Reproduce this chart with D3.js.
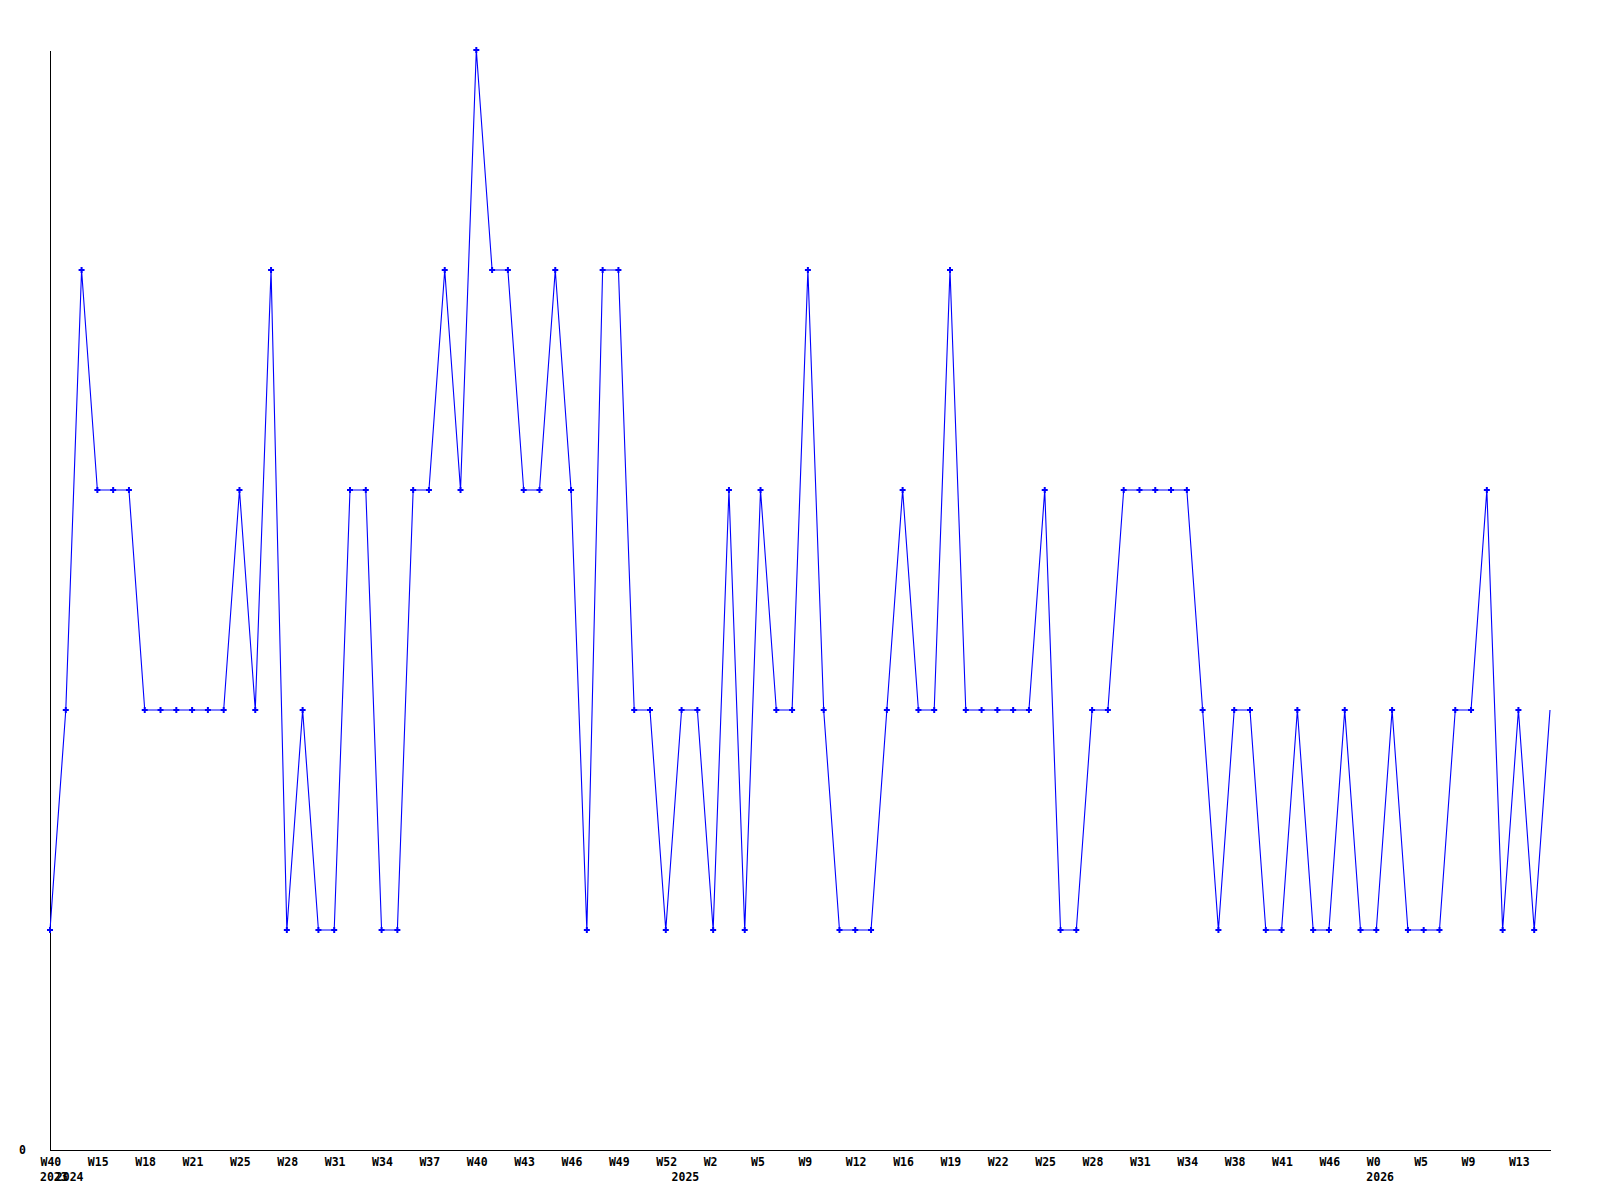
<!DOCTYPE html>
<html>
<head>
<meta charset="utf-8">
<script src="https://cdn.jsdelivr.net/npm/d3@7"></script>
<style>
  body { margin: 0; background: #fff; }
  text { font-family: "DejaVu Sans Mono", monospace; font-weight: bold; font-size: 11.5px; fill: #000; }
</style>
</head>
<body>
<svg width="1600" height="1200"></svg>
<script>
// weekly counts, one per point
var values = [
  1, 2, 4, 3, 3, 3, 2, 2, 2, 2,
  2, 2, 3, 2, 4, 1, 2, 1, 1, 3,
  3, 1, 1, 3, 3, 4, 3, 5, 4, 4,
  3, 3, 4, 3, 1, 4, 4, 2, 2, 1,
  2, 2, 1, 3, 1, 3, 2, 2, 4, 2,
  1, 1, 1, 2, 3, 2, 2, 4, 2, 2,
  2, 2, 2, 3, 1, 1, 2, 2, 3, 3,
  3, 3, 3, 2, 1, 2, 2, 1, 1, 2,
  1, 1, 2, 1, 1, 2, 1, 1, 1, 2,
  2, 3, 1, 2, 1, 2
];

// a week label on every third point
var weekLabels = ["W40", "W15", "W18", "W21", "W25", "W28", "W31", "W34", "W37", "W40",
  "W43", "W46", "W49", "W52", "W2", "W5", "W9", "W12", "W16", "W19",
  "W22", "W25", "W28", "W31", "W34", "W38", "W41", "W46", "W0", "W5",
  "W9", "W13"];
var labelStep = 3;

// year labels and the point where each year starts
var years = ["2023", "2024", "2025", "2026"];
var yearStart = [0, 1, 40, 84];

var yMax = 5;

var svg = d3.select("svg");
var marge = { top: 50, bottom: 50, left: 50, right: 50 };
var width = +svg.attr("width");
var height = +svg.attr("height");

var x = d3.scalePoint()
    .domain(d3.range(values.length))
    .range([marge.left, width - marge.right]);

var y = d3.scaleLinear()
    .domain([0, yMax])
    .range([height - marge.bottom, marge.top]);

var baseY = height - marge.bottom;

// axes
var xAxis = svg.append("g")
    .attr("transform", "translate(0," + baseY + ")")
    .call(d3.axisBottom(x)
        .tickValues(weekLabels.map(function (d, i) { return i * labelStep; }))
        .tickFormat(function (d) { return weekLabels[d / labelStep]; })
        .tickSize(0)
        .tickSizeOuter(0));
xAxis.attr("font-family", null).attr("font-size", null);
xAxis.select(".domain").attr("stroke", "#000").attr("stroke-width", 1).attr("shape-rendering", "crispEdges");
xAxis.selectAll("text")
    .attr("text-anchor", "start")
    .attr("x", -10)
    .attr("y", 16)
    .attr("dy", 0);

var yAxis = svg.append("g")
    .attr("transform", "translate(" + marge.left + ",0)")
    .call(d3.axisLeft(y)
        .tickValues([0])
        .tickFormat(d3.format("d"))
        .tickSize(0)
        .tickSizeOuter(0));
yAxis.attr("font-family", null).attr("font-size", null);
yAxis.select(".domain").attr("stroke", "#000").attr("stroke-width", 1).attr("shape-rendering", "crispEdges");
yAxis.selectAll("text")
    .attr("x", -24)
    .attr("dy", "0.32em");

// year row
svg.append("g")
    .selectAll("text")
    .data(years)
    .enter()
    .append("text")
    .attr("x", function (d, i) { return x(yearStart[i]) - 10; })
    .attr("y", baseY + 31)
    .text(function (d) { return d; });

// line
var line = d3.line()
    .x(function (d, i) { return x(i); })
    .y(function (d) { return y(d); });

svg.append("path")
    .datum(values)
    .attr("fill", "none")
    .attr("stroke", "#0000ff")
    .attr("stroke-width", 1.1)
    .attr("d", line);

// point markers (the last point has none)
svg.append("g")
    .selectAll("path")
    .data(values.slice(0, values.length - 1))
    .enter()
    .append("path")
    .attr("d", d3.symbol().type(d3.symbolCross).size(20))
    .attr("fill", "#0000ff")
    .attr("transform", function (d, i) { return "translate(" + x(i) + "," + y(d) + ")"; });
</script>
</body>
</html>
